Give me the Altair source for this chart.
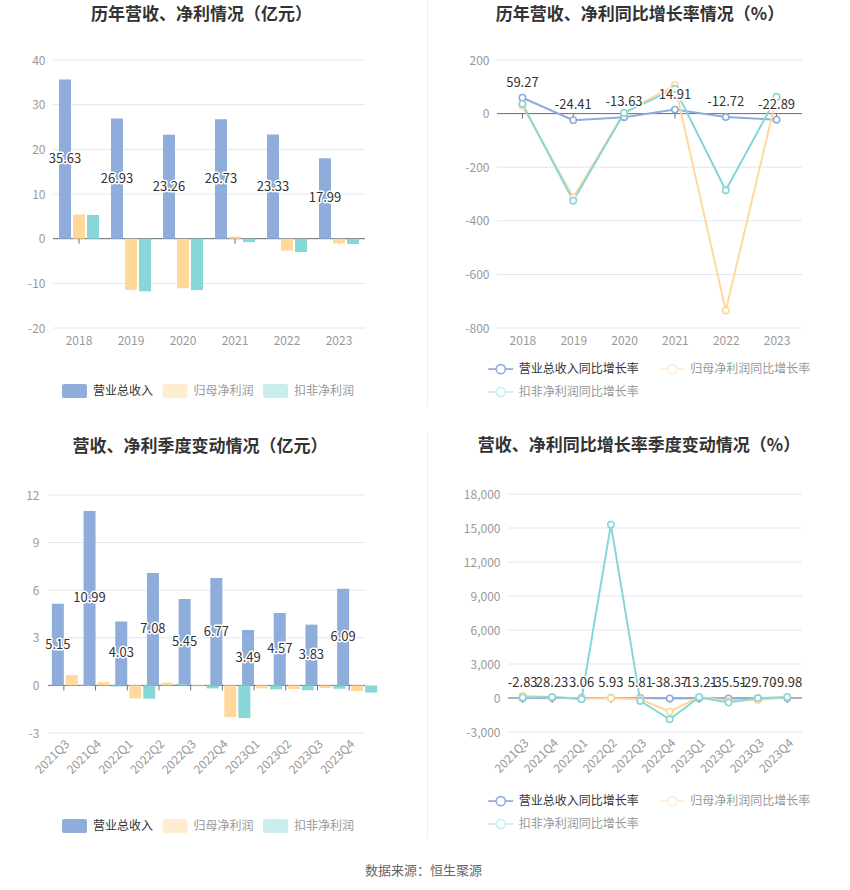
import altair as alt
import pandas as pd

# ---------------- data ----------------
years = ["2018", "2019", "2020", "2021", "2022", "2023"]
revenue = [35.63, 26.93, 23.26, 26.73, 23.33, 17.99]
net_profit = [5.40, -11.50, -11.10, 0.45, -2.70, -1.00]
deducted_profit = [5.30, -11.80, -11.50, -0.78, -3.00, -1.20]

revenue_yoy = [59.27, -24.41, -13.63, 14.91, -12.72, -22.89]
net_profit_yoy = [30.0, -313.0, 3.5, 106.0, -735.0, 63.0]
deducted_yoy = [36.0, -325.0, 2.5, 93.0, -286.0, 62.0]

quarters = ["2021Q3", "2021Q4", "2022Q1", "2022Q2", "2022Q3",
            "2022Q4", "2023Q1", "2023Q2", "2023Q3", "2023Q4"]
q_revenue = [5.15, 10.99, 4.03, 7.08, 5.45, 6.77, 3.49, 4.57, 3.83, 6.09]
q_net_profit = [0.65, 0.21, -0.82, 0.17, -0.06, -2.00, -0.19, -0.23, -0.17, -0.36]
q_deducted = [0.03, -0.07, -0.84, 0.10, -0.19, -2.06, -0.25, -0.30, -0.21, -0.44]

q_revenue_yoy = [-2.83, 28.23, 3.06, 5.93, 5.81, -38.37, -13.21, -35.51, -29.70, -9.98]
q_net_yoy = [200.0, 90.0, -60.0, -20.0, -110.0, -1200.0, 77.0, -235.0, -183.0, 82.0]
q_deducted_yoy = [50.0, 80.0, -100.0, 15300.0, -265.0, -1880.0, 70.0, -400.0, -10.0, 79.0]

bar_series = ["营业总收入", "归母净利润", "扣非净利润"]
line_series = ["营业总收入同比增长率", "归母净利润同比增长率", "扣非净利润同比增长率"]
palette = ["#8EADDB", "#FFD89A", "#87D6D8"]

titles = ["历年营收、净利情况（亿元）", "历年营收、净利同比增长率情况（%）",
          "营收、净利季度变动情况（亿元）", "营收、净利同比增长率季度变动情况（%）"]
source_text = "数据来源：恒生聚源"

# ---------------- styles ----------------
FONT = "Noto Sans CJK SC"
AXIS_LABEL = "#999999"
GRID = "#E0E6F1"
ZERO = "#6E7079"
SEP = "#EEEEEE"
NEG_LABEL = "datum.value < 0 ? '-' + format(-datum.value, ',') : format(datum.value, ',')"

RECT_PATH = ("M-1.486,-1 H1.486 A0.3,0.3 0 0 1 1.786,-0.7 V0.7 A0.3,0.3 0 0 1 1.486,1 "
             "H-1.486 A0.3,0.3 0 0 1 -1.786,0.7 V-0.7 A0.3,0.3 0 0 1 -1.486,-1 Z")
LINE_PATH = ("M-1.786,0 H-0.65 M0.65,0 H1.786 M0.65,0 A0.65,0.65 0 1 1 -0.65,0 "
             "A0.65,0.65 0 1 1 0.65,0 Z")

DUMMY = pd.DataFrame({"z": [0]})


def fmt(v):
    return f"{v:.2f}"


def title_layer(text, tx, ty):
    return alt.Chart(DUMMY).mark_text(
        text=text, fontSize=17, fontWeight="bold", color="#333333", font=FONT,
        align="center", baseline="middle").encode(x=alt.value(tx), y=alt.value(ty))


def common_layers(cats, x_enc, sep, x0, width, yvalues):
    # sep = (x, y1, y2, opacity): thin vertical divider (invisible on the right panels,
    # where it only keeps the rows' extents equal)
    layers = [alt.Chart(DUMMY).mark_rule(color=SEP, strokeWidth=1, opacity=sep[3]).encode(
        x=alt.value(sep[0]), y=alt.value(sep[1]), y2=alt.value(sep[2]))]
    # horizontal grid lines at the tick values
    layers.append(alt.Chart(pd.DataFrame({"v": yvalues})).mark_rule(
        color=GRID, strokeWidth=1).encode(
        x=alt.value(x0), x2=alt.value(width), y=alt.Y("v:Q")))
    layers.append(alt.Chart(DUMMY).mark_rule(color=ZERO, strokeWidth=1).encode(
        x=alt.value(x0), x2=alt.value(width), y=alt.datum(0)))
    layers.append(alt.Chart(pd.DataFrame({"cat": cats})).mark_point(
        shape="M0,0L0,1", size=100, stroke=ZERO, strokeWidth=1, filled=False, opacity=1
    ).encode(x=x_enc, y=alt.datum(0)))
    return layers


def y_encoding(domain, values, extent, lpad=8):
    return alt.Y("v:Q", stack=None,
                 scale=alt.Scale(domain=domain, nice=False),
                 axis=alt.Axis(title=None, values=values, tickCount=len(values),
                               grid=False, domain=False, ticks=False, labelOverlap=False,
                               labelColor=AXIS_LABEL, labelFontSize=12, labelPadding=lpad,
                               minExtent=extent, maxExtent=extent, labelExpr=NEG_LABEL))


def x_axis(angle, pad):
    kw = dict(title=None, labelAngle=angle, domain=False, ticks=False, grid=False,
              labelColor=AXIS_LABEL, labelFontSize=12, labelPadding=pad, labelOverlap=False)
    if angle != 0:
        kw.update(labelAlign="right", labelBaseline="top")
    return alt.Axis(**kw)


def bar_panel(cats, series_vals, width, height, x0, ydomain, yvalues, extent, ylpad,
              title, title_xy, p_inner, p_outer, off_inner, angle, lpad, legend_xy, sep):
    rows = []
    for s, vals in zip(bar_series, series_vals):
        for c, v in zip(cats, vals):
            rows.append({"cat": c, "s": s, "v": v})
    df = pd.DataFrame(rows)
    lab = pd.DataFrame({"cat": cats, "s": bar_series[0],
                        "v": [r / 2 for r in series_vals[0]],
                        "label": [fmt(r) for r in series_vals[0]]})

    x_enc = alt.X("cat:N", sort=cats,
                  scale=alt.Scale(range=[x0, width], paddingInner=p_inner, paddingOuter=p_outer),
                  axis=x_axis(angle, lpad))
    xoff = alt.XOffset("s:N", sort=bar_series,
                       scale=alt.Scale(domain=bar_series, paddingInner=off_inner, paddingOuter=0))
    y_enc = y_encoding(ydomain, yvalues, extent, ylpad)
    color = alt.Color("s:N", sort=bar_series,
                      scale=alt.Scale(domain=bar_series, range=palette),
                      legend=alt.Legend(
                          orient="none", legendX=legend_xy[0], legendY=legend_xy[1],
                          direction="horizontal", title=None,
                          symbolType=RECT_PATH, symbolSize=196, symbolStrokeWidth=0,
                          symbolOpacity={"expr": f"datum.value == '{bar_series[0]}' ? 1 : 0.45"},
                          labelColor={"expr": f"datum.value == '{bar_series[0]}' ? '#333333' : '#999999'"},
                          labelFontSize=12, labelFont=FONT, labelOffset=11.5,
                          columnPadding=8.5))

    base = common_layers(cats, x_enc, sep, x0, width, yvalues)
    bars = alt.Chart(df).mark_bar().encode(x=x_enc, xOffset=xoff, y=y_enc, color=color)
    halo = alt.Chart(lab).mark_text(fontSize=13, color="#333333", stroke="white",
                                    strokeWidth=3, strokeJoin="round", font=FONT).encode(
        x=x_enc, xOffset=xoff, y=alt.Y("v:Q"), text="label:N")
    txt = alt.Chart(lab).mark_text(fontSize=13, color="#333333", font=FONT).encode(
        x=x_enc, xOffset=xoff, y=alt.Y("v:Q"), text="label:N")
    ttl = title_layer(title, *title_xy)
    return alt.layer(*base, bars, halo, txt, ttl).properties(width=width, height=height)


def line_panel(cats, series_vals, width, height, ydomain, yvalues, extent, title, title_xy,
               angle, lpad, legend_xy, sep):
    rows = []
    for s, vals in zip(line_series, series_vals):
        for c, v in zip(cats, vals):
            rows.append({"cat": c, "s": s, "v": v})
    df = pd.DataFrame(rows)
    lab = pd.DataFrame({"cat": cats, "v": series_vals[0],
                        "label": [fmt(r) for r in series_vals[0]]})

    x_enc = alt.X("cat:N", sort=cats, scale=alt.Scale(type="point", padding=0.5),
                  axis=x_axis(angle, lpad))
    y_enc = y_encoding(ydomain, yvalues, extent)
    legend = alt.Legend(
        orient="none", legendX=legend_xy[0], legendY=legend_xy[1],
        direction="horizontal", columns=2, title=None,
        symbolType=LINE_PATH, symbolSize=196, symbolStrokeWidth=1.6,
        symbolFillColor="white",
        symbolOpacity={"expr": f"datum.value == '{line_series[0]}' ? 1 : 0.45"},
        labelColor={"expr": f"datum.value == '{line_series[0]}' ? '#333333' : '#999999'"},
        labelFontSize=12, labelFont=FONT, labelOffset=10, columnPadding=16.5, rowPadding=7)
    color = alt.Color("s:N", sort=line_series,
                      scale=alt.Scale(domain=line_series, range=palette), legend=legend)

    base = common_layers(cats, x_enc, sep, 0, width, yvalues)
    lines = alt.Chart(df).mark_line(strokeWidth=2).encode(x=x_enc, y=y_enc, color=color)
    pts = alt.Chart(df).mark_point(filled=False, fill="white", size=40, strokeWidth=1.6,
                                   opacity=1).encode(x=x_enc, y=alt.Y("v:Q"), color=color)
    halo = alt.Chart(lab).mark_text(fontSize=13, color="#333333", stroke="white",
                                    strokeWidth=3, strokeJoin="round", dy=-15, font=FONT).encode(
        x=x_enc, y=alt.Y("v:Q"), text="label:N")
    txt = alt.Chart(lab).mark_text(fontSize=13, color="#333333", dy=-15, font=FONT).encode(
        x=x_enc, y=alt.Y("v:Q"), text="label:N")
    ttl = title_layer(title, *title_xy)
    return alt.layer(*base, lines, pts, halo, txt, ttl).properties(width=width, height=height)


tl = bar_panel(years, [revenue, net_profit, deducted_profit], 312, 268, 0,
               [-20, 40], [-20, -10, 0, 10, 20, 30, 40], 53, 8,
               titles[0], (148.5, -45),
               0.2308, 0.1154, 0.1429, 0, 7, (14.5, 324), (374.5, -59, 346, 1))

tr = line_panel(years, [revenue_yoy, net_profit_yoy, deducted_yoy], 305, 268,
                [-800, 200], [-800, -600, -400, -200, 0, 200], 45,
                titles[1], (143, -45), 0, 7, (-4.25, 301), (10, -59, 346, 0))

bl = bar_panel(quarters, [q_revenue, q_net_profit, q_deducted], 312, 238, -5,
               [-3, 12], [-3, 0, 3, 6, 9, 12], 53, 14,
               titles[2], (147, -48),
               0.243, 0.1215, 0.07, -45, 5, (14.5, 324), (374.5, -62, 343, 1))

br = line_panel(quarters, [q_revenue_yoy, q_net_yoy, q_deducted_yoy], 294, 238,
                [-3000, 18000], [-3000, 0, 3000, 6000, 9000, 12000, 15000, 18000], 56,
                titles[3], (131, -48), -45, 5, (-15.25, 299), (10, -62, 343, 0))

chart = alt.concat(tl, tr, bl, br, columns=2, spacing={"row": 25, "column": 24},
                   align="none").resolve_scale(
    color="independent").resolve_legend(color="independent").properties(
    title=alt.TitleParams(source_text, orient="bottom", anchor="middle",
                          fontSize=13, fontWeight="normal", color="#666666",
                          offset=26, dx=18, font=FONT),
    padding={"left": 0, "top": 0, "right": 5, "bottom": 10},
    background="white",
).configure(font=FONT).configure_view(stroke=None)

chart.save("out.html", embed_options={"renderer": "svg", "actions": False})
